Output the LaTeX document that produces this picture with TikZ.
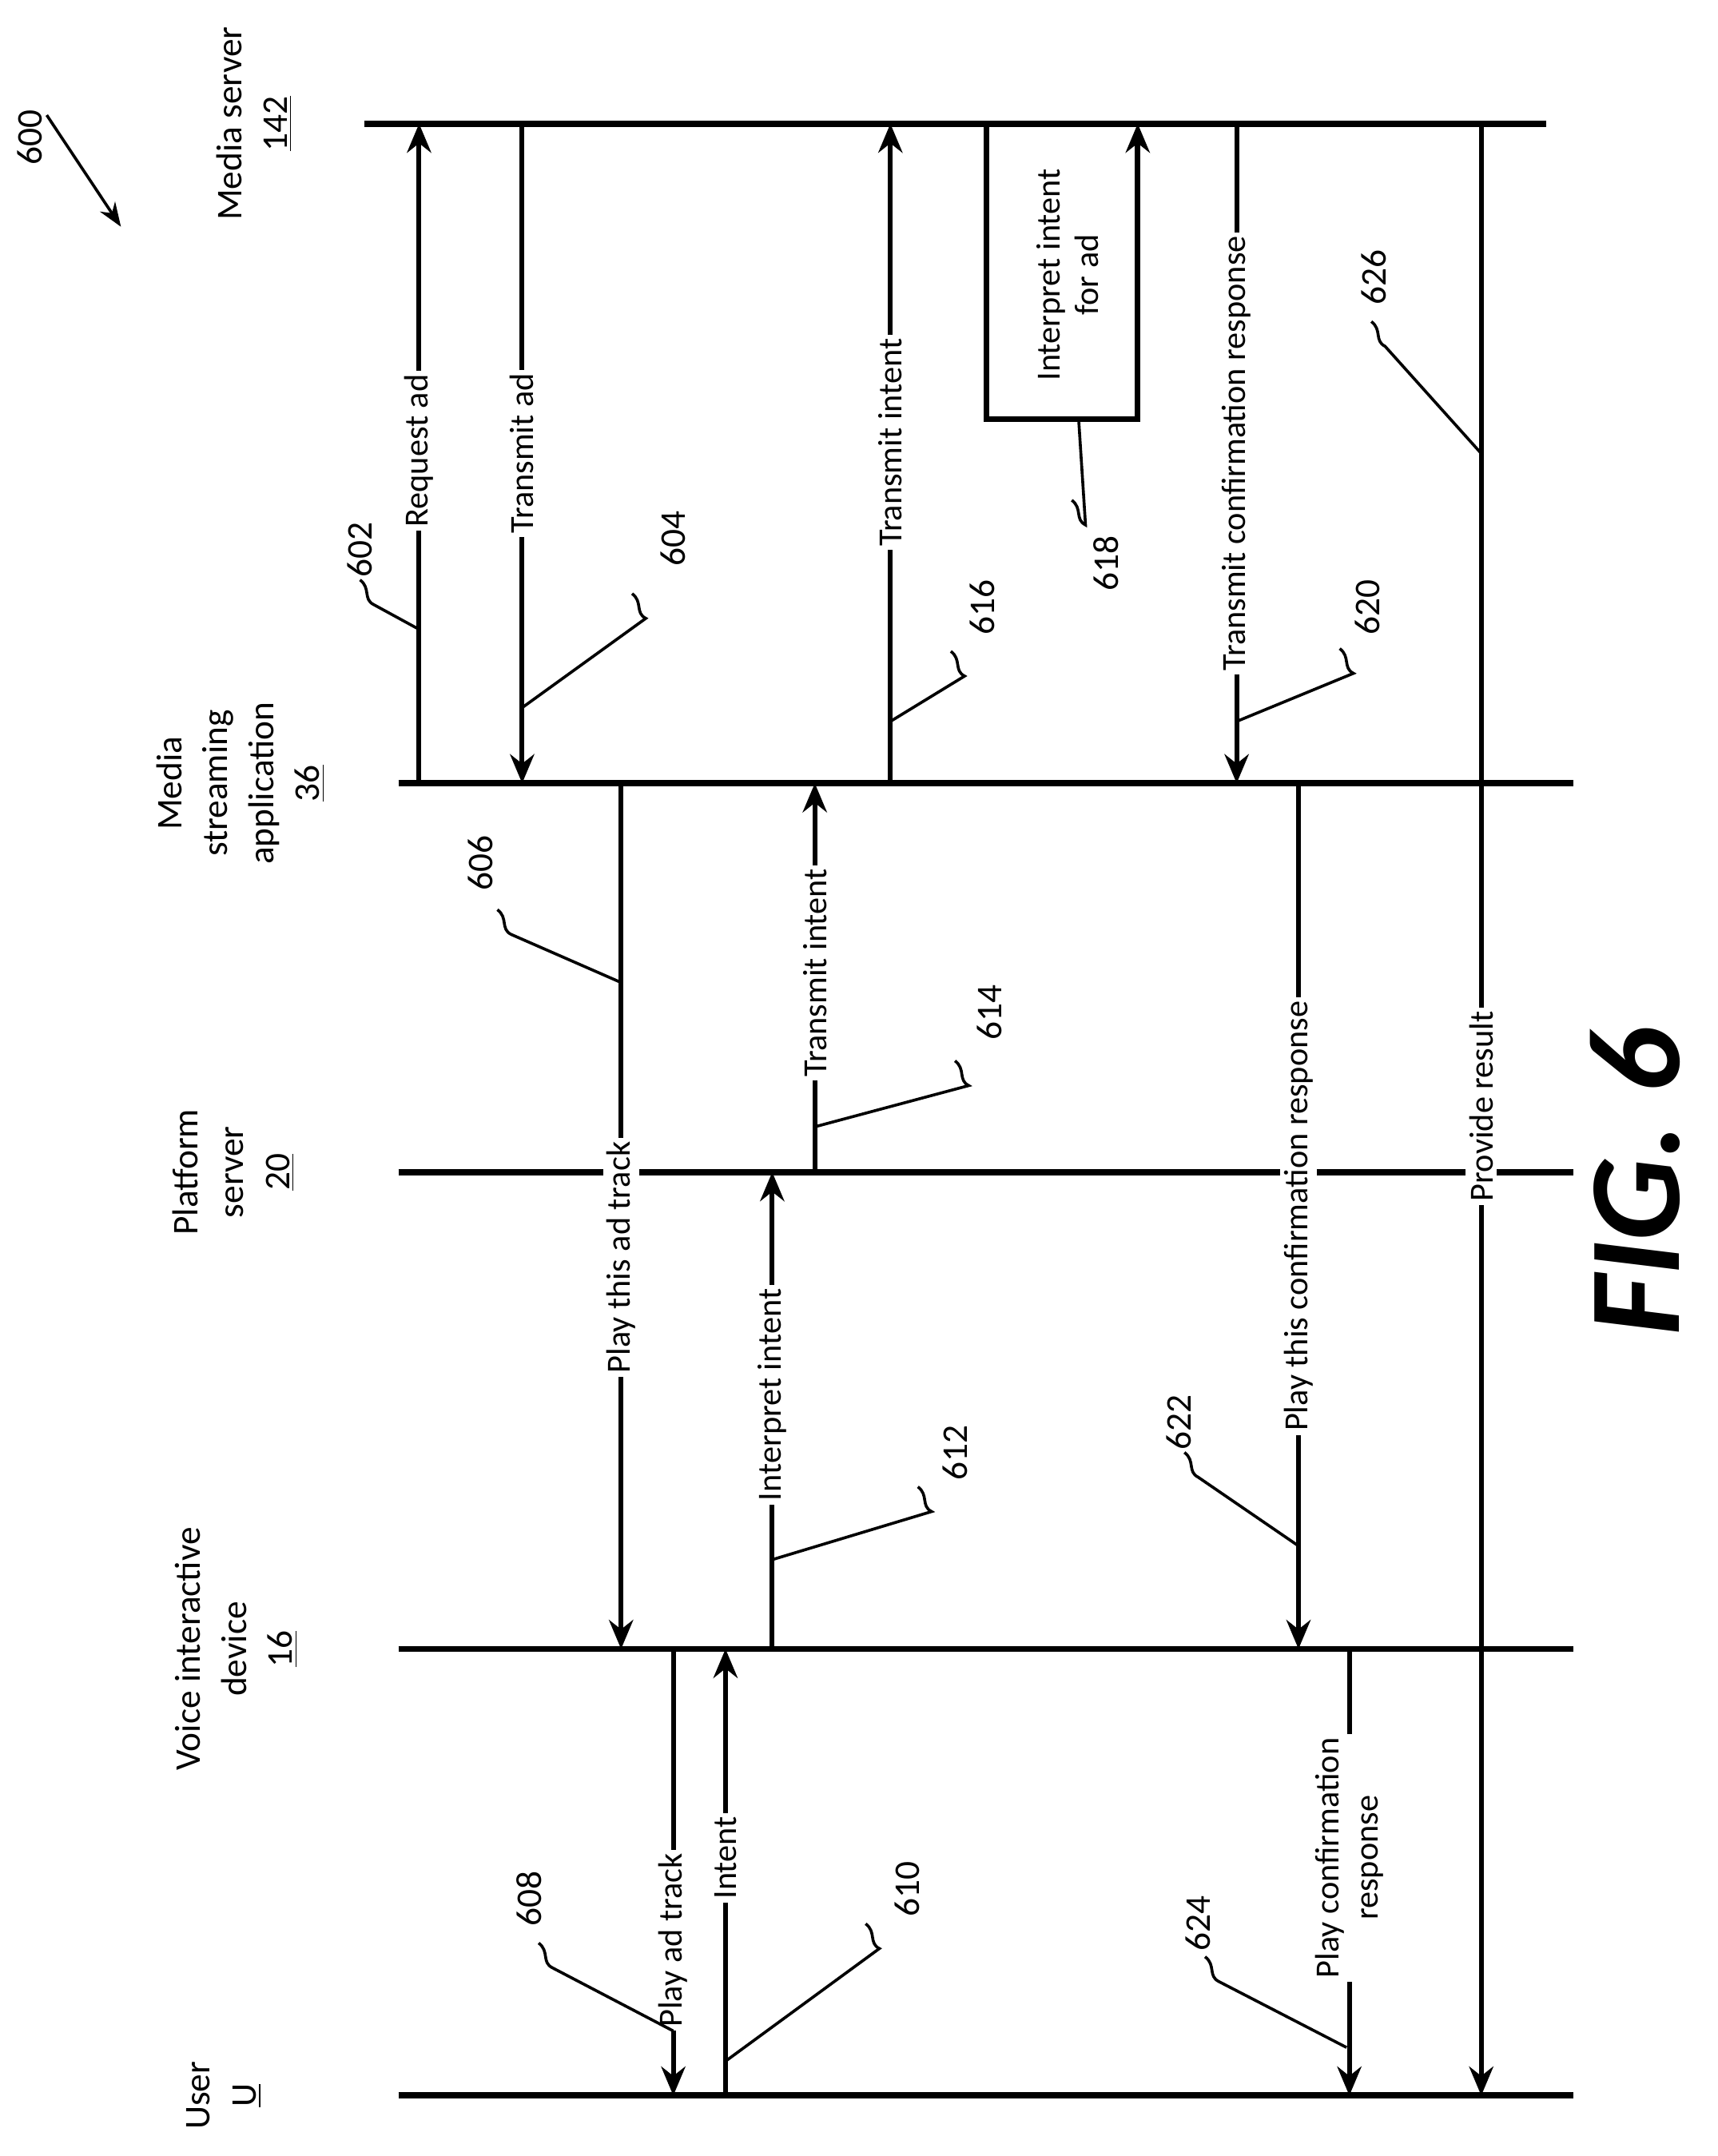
\documentclass[tikz,border=0pt]{standalone}
\usepackage{fontspec}
\setmainfont{Carlito}
\usetikzlibrary{arrows.meta}
\tikzset{
  life/.style={line width=2.6pt},
  msg/.style={line width=2pt,-{Stealth[length=12pt,width=10pt]}},
  lbl/.style={rotate=90,fill=white,inner sep=1.5pt,font=\fontsize{14}{16}\selectfont},
  hdr/.style={rotate=90,align=center,font=\fontsize{15}{19}\selectfont},
  ref/.style={rotate=90,font=\fontsize{15}{17}\selectfont},
  lead/.style={line width=1.2pt}
}
\begin{document}
\begin{tikzpicture}[x=0.02cm,y=-0.02cm]
\useasboundingbox (0,0) rectangle (1250,1569);
% lifelines
\draw[life] (265,90) -- (1125,90);
\draw[life] (290,570) -- (1145,570);
\draw[life] (290,853) -- (1145,853);
\draw[life] (290,1200) -- (1145,1200);
\draw[life] (290,1525) -- (1145,1525);
% headers
\node[hdr] (ms) at (185,90) {Media server\\\underline{142}};
\node[hdr] (msa) at (175,570) {Media\\streaming\\application\\\underline{36}};
\node[hdr] (ps) at (170,853) {Platform\\server\\\underline{20}};
\node[hdr] (vid) at (172,1200) {Voice interactive\\device\\\underline{16}};
\node[hdr] (usr) at (163,1525) {User\\\underline{U}};
% coordinates on lifelines
\coordinate (a1) at (305,570); \coordinate (a2) at (305,90);
\coordinate (b1) at (380,90); \coordinate (b2) at (380,570);
\coordinate (c1) at (452,570); \coordinate (c2) at (452,1200);
\coordinate (d1) at (490,1200); \coordinate (d2) at (490,1525);
\coordinate (e1) at (528,1525); \coordinate (e2) at (528,1200);
\coordinate (f1) at (562,1200); \coordinate (f2) at (562,853);
\coordinate (g1) at (593,853); \coordinate (g2) at (593,570);
\coordinate (h1) at (648,570); \coordinate (h2) at (648,90);
\coordinate (i1) at (718,90); \coordinate (i2) at (718,305);
\coordinate (i3) at (828,305); \coordinate (i4) at (828,90);
\coordinate (j1) at (900,90); \coordinate (j2) at (900,570);
\coordinate (k1) at (945,570); \coordinate (k2) at (945,1200);
\coordinate (l1) at (982,1200); \coordinate (l2) at (982,1525);
\coordinate (m1) at (1078,90); \coordinate (m2) at (1078,1525);
% messages
\draw[msg] (a1) -- (a2); \node[lbl] (la) at (305,328) {Request ad};
\draw[msg] (b1) -- (b2); \node[lbl] (lb) at (380,330) {Transmit ad};
\draw[msg] (c1) -- (c2); \node[lbl] (lc) at (452,915) {Play this ad track};
\draw[msg] (d1) -- (d2); \node[lbl] (ld) at (490,1412) {Play ad track};
\draw[msg] (e1) -- (e2); \node[lbl] (le) at (528,1352) {Intent};
\draw[msg] (f1) -- (f2); \node[lbl] (lf) at (562,1015) {Interpret intent};
\draw[msg] (g1) -- (g2); \node[lbl] (lg) at (593,708) {Transmit intent};
\draw[msg] (h1) -- (h2); \node[lbl] (lh) at (648,322) {Transmit intent};
\draw[msg,line width=2.2pt] (i1) -- (i2) -- (i3) -- (i4);
\node[lbl,align=center,fill=none] (li) at (777,200) {Interpret intent\\for ad};
\draw[msg] (j1) -- (j2); \node[lbl] (lj) at (900,330) {Transmit confirmation response};
\draw[msg] (k1) -- (k2); \node[lbl] (lk) at (945,885) {Play this confirmation response};
\draw[msg] (l1) -- (l2); \node[lbl,align=center] (ll) at (982,1352) {Play confirmation\\response};
\draw[msg] (m1) -- (m2); \node[lbl] (lm) at (1078,805) {Provide result};
% reference numerals
\node[ref] (n600) at (22,100) {600};
\draw[lead,-{Stealth[length=10pt]}] (n600.east) ++(12,10) -- (88,165);
\foreach \nm/\x/\y/\px/\py/\qx/\qy in {
  602/262/400/305/458/272/440,
  604/490/392/380/515/470/450,
  606/350/628/452/715/372/680,
  608/385/1382/490/1478/402/1432,
  610/660/1375/528/1500/640/1418,
  612/695/1057/562/1135/678/1100,
  614/720/737/593/820/705/790,
  616/715/442/648/525/702/492,
  618/805/410/785/305/790/382,
  620/995/442/900/525/985/490,
  622/858/1035/945/1125/872/1075,
  624/872/1400/980/1490/887/1442,
  626/1000/202/1078/330/1008/252}{
  \node[ref] (r\nm) at (\x,\y) {\nm};
  \draw[lead] (\px,\py) -- (\qx,\qy) .. controls (\qx-8,\qy-4) and (\qx-2,\qy-12) .. (\qx-10,\qy-18);
}
\node[rotate=90,font=\fontsize{54}{54}\selectfont\bfseries\itshape] (fig) at (1190,860) {FIG. 6};
\end{tikzpicture}
\end{document}
